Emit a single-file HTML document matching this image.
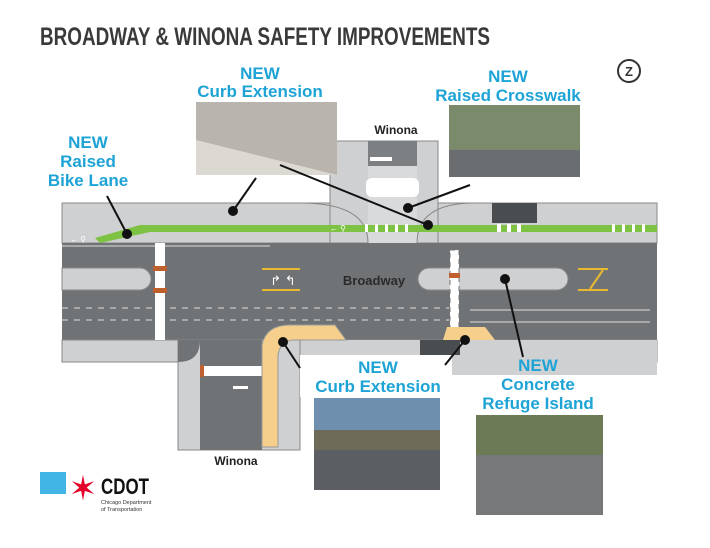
<!DOCTYPE html>
<html><head><meta charset="utf-8"><style>
body{margin:0;background:#fff;}
svg{display:block;font-family:"Liberation Sans",sans-serif;}
.b{fill:#1ea3d6;font-weight:bold;font-size:17px;text-anchor:middle;}
</style></head><body>
<svg width="710" height="548" viewBox="0 0 710 548">
<text x="40" y="45" font-size="25" font-weight="bold" fill="#3a3a3c" textLength="450" lengthAdjust="spacingAndGlyphs">BROADWAY &amp; WINONA SAFETY IMPROVEMENTS</text>
<circle cx="629" cy="71" r="11" fill="none" stroke="#333" stroke-width="2"/><text x="629" y="76" font-size="13" font-weight="bold" text-anchor="middle" fill="#333">Z</text>
<!-- top sidewalk -->
<rect x="62" y="203" width="595" height="40" fill="#cfd0d2" stroke="#888"/>
<!-- top side street -->
<rect x="330" y="141" width="108" height="102" fill="#cfd0d2" stroke="#888" stroke-width="1"/>
<rect x="368" y="141" width="49" height="25" fill="#7d8083"/>
<rect x="368" y="166" width="49" height="77" fill="#d9dadc"/>
<rect x="366" y="178" width="53" height="19" rx="6" fill="#fff"/>
<rect x="370" y="157" width="22" height="4" fill="#fff"/>
<path d="M300 203 Q368 203 368 243 M417 243 Q417 203 475 203" fill="none" stroke="#888"/>
<rect x="492" y="203" width="45" height="20" fill="#4a4d50"/>
<!-- road -->
<rect x="62" y="243" width="595" height="97" fill="#6f7376"/>
<!-- bottom sidewalk -->
<rect x="62" y="340" width="595" height="22" fill="#cfd0d2" stroke="#888"/>
<rect x="300" y="340" width="357" height="35" fill="#cfd0d2"/>
<rect x="178" y="340" width="122" height="110" fill="#cfd0d2" stroke="#888"/>
<rect x="200" y="340" width="62" height="110" fill="#6f7376"/>
<path d="M178 362 Q200 362 200 340 L178 340Z" fill="#6f7376"/>
<path d="M420 340 L445 340 L440 355 L428 355Z" fill="#4a4d50"/>
<rect x="420" y="340" width="40" height="15" fill="#4a4d50"/>
<!-- bike lane -->
<path d="M95 238 L140 225 L657 225 L657 232 L150 232 L100 243Z" fill="#7dc242"/>
<g fill="#fff"><rect x="365" y="224" width="3" height="8"/><rect x="375" y="224" width="3" height="8"/><rect x="385" y="224" width="3" height="8"/><rect x="395" y="224" width="3" height="8"/><rect x="405" y="224" width="3" height="8"/><rect x="497" y="224" width="4" height="8"/><rect x="507" y="224" width="4" height="8"/><rect x="517" y="224" width="4" height="8"/><rect x="612" y="224" width="3" height="8"/><rect x="622" y="224" width="3" height="8"/><rect x="632" y="224" width="3" height="8"/><rect x="642" y="224" width="3" height="8"/></g>
<text x="338" y="231" font-size="8" fill="#fff" text-anchor="middle">← ⚲</text>
<text x="78" y="242" font-size="8" fill="#fff" text-anchor="middle">← ⚲</text>
<!-- lane lines -->
<line x1="62" y1="246" x2="270" y2="246" stroke="#ddd" stroke-width="1"/>
<line x1="62" y1="308" x2="455" y2="308" stroke="#ddd" stroke-dasharray="6,6"/>
<line x1="62" y1="320" x2="455" y2="320" stroke="#ddd" stroke-dasharray="6,6"/>
<line x1="470" y1="310" x2="650" y2="310" stroke="#ddd"/><line x1="470" y1="322" x2="650" y2="322" stroke="#ddd"/>
<!-- islands -->
<path d="M62 268 L140 268 A11 11 0 0 1 140 290 L62 290Z" fill="#cfd0d2" stroke="#888"/>
<rect x="418" y="268" width="150" height="22" rx="11" fill="#cfd0d2" stroke="#888"/>
<!-- crosswalks -->
<rect x="155" y="243" width="10" height="97" fill="#fff"/>
<rect x="153" y="266" width="14" height="5" fill="#c0602e"/><rect x="153" y="288" width="14" height="5" fill="#c0602e"/>
<rect x="450" y="250" width="9" height="85" fill="#fff" stroke="#6f7376" stroke-dasharray="5,4"/>
<rect x="449" y="273" width="11" height="5" fill="#c0602e"/>
<rect x="203" y="366" width="60" height="10" fill="#fff"/><rect x="200" y="365" width="4" height="12" fill="#c0602e"/><rect x="262" y="365" width="4" height="12" fill="#c0602e"/>
<rect x="233" y="386" width="15" height="3" fill="#fff"/>
<!-- yellow markings -->
<g stroke="#e8b830" stroke-width="2"><line x1="262" y1="269" x2="300" y2="269"/><line x1="262" y1="290" x2="300" y2="290"/><line x1="578" y1="269" x2="608" y2="269"/><line x1="578" y1="290" x2="608" y2="290"/><line x1="590" y1="289" x2="603" y2="270"/></g>
<text x="283" y="285" font-size="13" fill="#fff" text-anchor="middle">↱ ↰</text>
<text x="374" y="285" font-size="13" font-weight="bold" fill="#2a2a2a" text-anchor="middle">Broadway</text>
<!-- curb extensions -->
<path d="M262 447 L262 345 Q266 325 290 325 L335 325 L346 340 L292 340 Q280 342 278 355 L278 447Z" fill="#f6cf8c" stroke="#999"/>
<path d="M443 340 L447 327 L485 327 L495 340Z" fill="#f6cf8c"/>
<!-- white label backgrounds -->
<rect x="300" y="355" width="152" height="42" fill="#fff"/>
<!-- photos -->
<rect x="196" y="102" width="141" height="73" fill="#b9b4ad"/><path d="M196 140 L337 175 L196 175Z" fill="#dcd8d2"/>
<rect x="449" y="105" width="131" height="72" fill="#7c8a6c"/><rect x="449" y="150" width="131" height="27" fill="#6b6e70"/>
<rect x="314" y="398" width="126" height="92" fill="#6f8fae"/><rect x="314" y="430" width="126" height="20" fill="#6d6b57"/><rect x="314" y="450" width="126" height="40" fill="#5b5e63"/>
<rect x="476" y="415" width="127" height="100" fill="#6d7a56"/><rect x="476" y="455" width="127" height="60" fill="#77787a"/>
<!-- leaders -->
<g stroke="#111" stroke-width="2"><line x1="107" y1="196" x2="127" y2="234"/><line x1="256" y1="178" x2="233" y2="211"/><line x1="280" y1="165" x2="428" y2="225"/><line x1="470" y1="185" x2="408" y2="208"/><line x1="505" y1="279" x2="523" y2="357"/><line x1="283" y1="342" x2="300" y2="368"/><line x1="465" y1="340" x2="445" y2="365"/></g>
<g fill="#111"><circle cx="127" cy="234" r="5"/><circle cx="233" cy="211" r="5"/><circle cx="428" cy="225" r="5"/><circle cx="408" cy="208" r="5"/><circle cx="505" cy="279" r="5"/><circle cx="283" cy="342" r="5"/><circle cx="465" cy="340" r="5"/></g>
<!-- labels -->
<text class="b" x="260" y="79">NEW</text><text class="b" x="260" y="97">Curb Extension</text>
<text class="b" x="508" y="82">NEW</text><text class="b" x="508" y="101">Raised Crosswalk</text>
<text class="b" x="88" y="148">NEW</text><text class="b" x="88" y="167">Raised</text><text class="b" x="88" y="186">Bike Lane</text>
<text class="b" x="378" y="373">NEW</text><text class="b" x="378" y="392">Curb Extension</text>
<text class="b" x="538" y="371">NEW</text><text class="b" x="538" y="390">Concrete</text><text class="b" x="538" y="409">Refuge Island</text>
<text x="396" y="134" font-size="12" font-weight="bold" fill="#222" text-anchor="middle">Winona</text>
<text x="236" y="465" font-size="12" font-weight="bold" fill="#222" text-anchor="middle">Winona</text>
<!-- CDOT -->
<rect x="40" y="472" width="26" height="22" fill="#41b6e6"/>
<text x="83" y="500" font-size="34" fill="#e4002b" text-anchor="middle">✶</text>
<text x="101" y="494" font-size="22" font-weight="bold" fill="#111" textLength="48" lengthAdjust="spacingAndGlyphs">CDOT</text>
<text x="101" y="504" font-size="5.5" fill="#333">Chicago Department</text><text x="101" y="511" font-size="5.5" fill="#333">of Transportation</text>
</svg>
</body></html>
